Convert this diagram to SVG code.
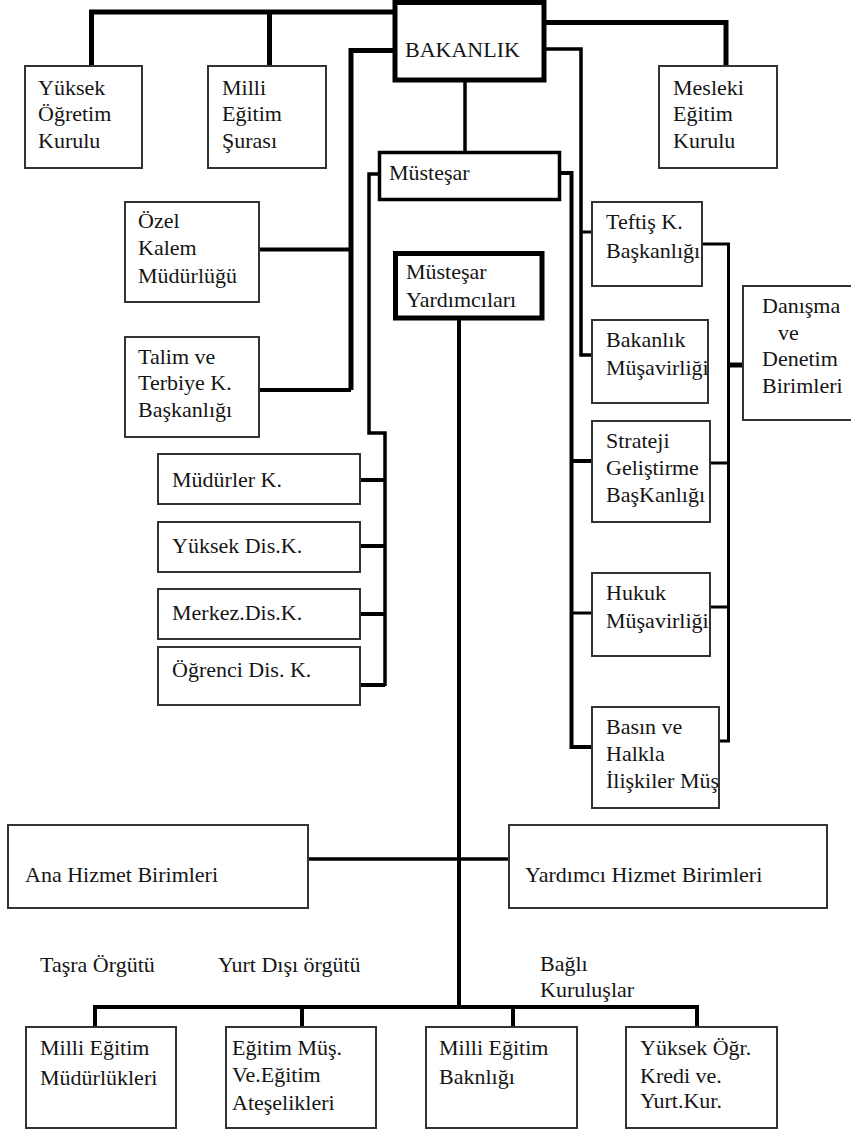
<svg xmlns="http://www.w3.org/2000/svg" width="851" height="1130" viewBox="0 0 851 1130">
<style>
.bg{fill:#fff}
.box{fill:#fff;stroke:#333;stroke-width:2}
.tk{fill:#fff;stroke:#000;stroke-width:5}
.md{fill:#fff;stroke:#000;stroke-width:3.5}
text{font-family:"Liberation Serif","Times New Roman",serif;font-size:22px;fill:#151515}
.c{fill:none;stroke:#000;stroke-linejoin:miter;stroke-linecap:butt}
.w5{stroke-width:5}.w4{stroke-width:4}.w35{stroke-width:3.5}.w3{stroke-width:3}
</style>
<rect class="bg" x="0" y="0" width="851" height="1130"/>
<g id="connectors">
<path class="c w5" d="M91.5,66 V12 H395"/>
<path class="c w5" d="M269.5,12 V66"/>
<path class="c w5" d="M544,22.5 H726 V66"/>
<path class="c w5" d="M395,50.5 H351 V390"/>
<path class="c w4" d="M259,249.5 H351"/>
<path class="c w4" d="M259,390 H351"/>
<path class="c w35" d="M544,49 H581 V355 H592"/>
<path class="c w3" d="M581,232 H592"/>
<path class="c w35" d="M465,80 V152"/>
<path class="c w35" d="M379,174 H369 V433 H385 V686"/>
<path class="c w4" d="M360,480 H385"/>
<path class="c w4" d="M360,546 H385"/>
<path class="c w4" d="M360,614 H385"/>
<path class="c w4" d="M360,685 H385"/>
<path class="c w4" d="M560,173 H571.5 V747 H592"/>
<path class="c w4" d="M571.5,461 H592"/>
<path class="c w3" d="M571.5,613 H592"/>
<path class="c w3" d="M702,244 H728.5 V741 H719"/>
<path class="c w3" d="M710,463 H728.5"/>
<path class="c w3" d="M710,607 H728.5"/>
<path class="c w5" d="M728.5,365 H743"/>
<path class="c w4" d="M459,318 V1007"/>
<path class="c w35" d="M308,859 H509"/>
<path class="c w4" d="M95,1027 V1007 H697 V1027"/>
<path class="c w4" d="M302,1007 V1027"/>
<path class="c w4" d="M513,1007 V1027"/>
</g>
<g id="bakanlik"><rect class="tk" x="395" y="2.5" width="149" height="77.5"/><text x="405" y="57">BAKANLIK</text></g>
<g id="yuksek-ogretim"><rect class="box" x="25" y="66" width="117" height="102"/><text x="38" y="95">Yüksek</text><text x="38" y="121">Öğretim</text><text x="38" y="148">Kurulu</text></g>
<g id="milli-egitim-surasi"><rect class="box" x="208" y="66" width="118" height="102"/><text x="222" y="95">Milli</text><text x="222" y="121">Eğitim</text><text x="222" y="148">Şurası</text></g>
<g id="mesleki"><rect class="box" x="659" y="66" width="118" height="102"/><text x="673" y="95">Mesleki</text><text x="673" y="121">Eğitim</text><text x="673" y="148">Kurulu</text></g>
<g id="mustesar"><rect class="md" x="379.5" y="152.5" width="180" height="47"/><text x="389" y="180">Müsteşar</text></g>
<g id="mustesar-yardimcilari"><rect class="tk" x="395.5" y="253.5" width="146.5" height="64.5"/><text x="406" y="279">Müsteşar</text><text x="406" y="307">Yardımcıları</text></g>
<g id="ozel-kalem"><rect class="box" x="125" y="202" width="134" height="100"/><text x="138" y="228">Özel</text><text x="138" y="255">Kalem</text><text x="138" y="283">Müdürlüğü</text></g>
<g id="talim-terbiye"><rect class="box" x="125" y="337" width="134" height="100"/><text x="138" y="364">Talim ve</text><text x="138" y="390">Terbiye K.</text><text x="138" y="417">Başkanlığı</text></g>
<g id="mudurler"><rect class="box" x="158" y="454" width="202" height="50"/><text x="172" y="487">Müdürler K.</text></g>
<g id="yuksek-dis"><rect class="box" x="158" y="522" width="202" height="50"/><text x="172" y="553">Yüksek Dis.K.</text></g>
<g id="merkez-dis"><rect class="box" x="158" y="589" width="202" height="50"/><text x="172" y="620">Merkez.Dis.K.</text></g>
<g id="ogrenci-dis"><rect class="box" x="158" y="647" width="202" height="58"/><text x="172" y="677">Öğrenci Dis. K.</text></g>
<g id="teftis"><rect class="box" x="592" y="202" width="110" height="84"/><text x="606" y="229">Teftiş K.</text><text x="606" y="258">Başkanlığı</text></g>
<g id="bakanlik-musavirligi"><rect class="box" x="592" y="320" width="116" height="83"/><text x="606" y="347">Bakanlık</text><text x="606" y="375">Müşavirliği</text></g>
<g id="strateji"><rect class="box" x="592" y="421" width="118" height="101"/><text x="606" y="448">Strateji</text><text x="606" y="475">Geliştirme</text><text x="606" y="502">BaşKanlığı</text></g>
<g id="hukuk"><rect class="box" x="592" y="573" width="118" height="83"/><text x="606" y="600">Hukuk</text><text x="606" y="628">Müşavirliği</text></g>
<g id="basin"><rect class="box" x="592" y="707" width="127" height="101"/><text x="606" y="734">Basın ve</text><text x="606" y="761">Halkla</text><text x="606" y="788">İlişkiler Müş</text></g>
<g id="danisma"><rect class="box" x="743" y="286" width="112" height="134"/><text x="762" y="313">Danışma</text><text x="778" y="340">ve</text><text x="762" y="366">Denetim</text><text x="762" y="393">Birimleri</text></g>
<g id="ana-hizmet"><rect class="box" x="8" y="825" width="300" height="83"/><text x="25" y="882">Ana Hizmet Birimleri</text></g>
<g id="yardimci-hizmet"><rect class="box" x="509" y="825" width="318" height="83"/><text x="525" y="882">Yardımcı Hizmet Birimleri</text></g>
<g id="labels"><text x="40" y="972">Taşra Örgütü</text><text x="218" y="972">Yurt Dışı örgütü</text><text x="540" y="971">Bağlı</text><text x="540" y="997">Kuruluşlar</text></g>
<g id="mem"><rect class="box" x="26" y="1027" width="150" height="101"/><text x="40" y="1055">Milli Eğitim</text><text x="40" y="1085">Müdürlükleri</text></g>
<g id="egitim-musavirlik"><rect class="box" x="226" y="1027" width="150" height="101"/><text x="232" y="1055">Eğitim Müş.</text><text x="232" y="1082">Ve.Eğitim</text><text x="232" y="1110">Ateşelikleri</text></g>
<g id="meb"><rect class="box" x="426" y="1027" width="151" height="101"/><text x="439" y="1055">Milli Eğitim</text><text x="439" y="1084">Baknlığı</text></g>
<g id="kyk"><rect class="box" x="626" y="1027" width="151" height="101"/><text x="640" y="1055">Yüksek Öğr.</text><text x="640" y="1083">Kredi ve.</text><text x="640" y="1108">Yurt.Kur.</text></g>
</svg>
